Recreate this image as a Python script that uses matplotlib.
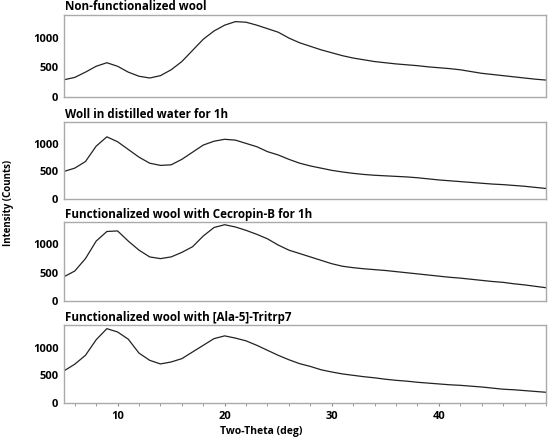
import numpy as np
import matplotlib
matplotlib.use("Agg")
import matplotlib.pyplot as plt
from matplotlib.ticker import MultipleLocator

plt.rcParams['font.family'] = ['Open Sans', 'DejaVu Sans']

# two-theta positions (deg) and intensities
two_theta = list(range(5, 51))

wool_raw = [290, 330, 420, 520, 580, 520, 420, 350, 320, 360,
            460, 600, 790, 980, 1120, 1220, 1280, 1270, 1220, 1160,
            1100, 1000, 920, 860, 800, 750, 700, 660, 630, 600,
            580, 560, 545, 530, 510, 495, 480, 460, 430, 400,
            380, 360, 340, 320, 300, 285]

wool_water = [500, 560, 680, 960, 1130, 1040, 900, 760, 650, 610,
              620, 720, 850, 980, 1050, 1085, 1070, 1010, 950, 860,
              800, 720, 650, 600, 560, 520, 490, 465, 445, 430,
              420, 410, 400, 385, 365, 345, 330, 315, 300, 285,
              270, 260, 245, 230, 210, 190]

wool_cecropin = [430, 530, 750, 1060, 1230, 1240, 1060, 900, 780, 750,
                 780, 860, 960, 1150, 1300, 1350, 1310, 1250, 1180, 1100,
                 990, 900, 840, 780, 720, 660, 615, 590, 570, 555,
                 540, 520, 500, 480, 460, 440, 420, 405, 385, 365,
                 345, 330, 305, 285, 260, 235]

wool_tritrp = [580, 700, 860, 1140, 1340, 1280, 1150, 900, 770, 705,
               740, 800, 920, 1040, 1160, 1210, 1170, 1120, 1040, 950,
               860, 780, 710, 660, 600, 560, 525, 500, 475, 455,
               430, 410, 395, 375, 360, 345, 330, 320, 305, 290,
               270, 250, 240, 225, 210, 195]

titles = ["Non-functionalized wool",
          "Woll in distilled water for 1h",
          "Functionalized wool with Cecropin-B for 1h",
          "Functionalized wool with [Ala-5]-Tritrp7"]
series = [wool_raw, wool_water, wool_cecropin, wool_tritrp]

fig = plt.figure(figsize=(5.52, 4.42), dpi=100)

# panel boxes in figure fraction (left, bottom, width, height)
boxes = [(0.116, 0.781, 0.873, 0.186),
         (0.116, 0.550, 0.873, 0.174),
         (0.116, 0.319, 0.873, 0.179),
         (0.116, 0.088, 0.873, 0.176)]

for k in range(4):
    ax = fig.add_axes(boxes[k])
    ax.plot(two_theta, series[k], color='#222222', lw=0.9)
    ax.set_xlim(5, 50)
    ax.set_ylim(0, 1400)
    ax.set_yticks([0, 500, 1000])
    for s in ax.spines.values():
        s.set_color('#aaaaaa')
        s.set_linewidth(1.0)
    ax.tick_params(axis='y', length=0, labelsize=8, pad=4)
    for lab in ax.get_yticklabels():
        lab.set_fontweight('bold')
    # title sits just above the frame
    ax.annotate(titles[k], xy=(0, 1), xycoords='axes fraction',
                xytext=(1, 3), textcoords='offset points',
                ha='left', va='baseline', fontsize=8.4, fontweight='bold')
    if k < 3:
        ax.set_xticks([])
    else:
        ax.set_xticks([10, 20, 30, 40])
        ax.xaxis.set_minor_locator(MultipleLocator(2))
        ax.tick_params(axis='x', which='both', length=2, color='#888888',
                       labelsize=8, pad=4)
        for lab in ax.get_xticklabels():
            lab.set_fontweight('bold')

fig.text(0.015, 0.54, "Intensity (Counts)", rotation=90, ha='center', va='center',
         fontsize=7, fontweight='bold')
fig.text(0.473, 0.012, "Two-Theta (deg)", ha='center', va='bottom',
         fontsize=7.5, fontweight='bold')

fig.savefig("out.png", dpi=100)
